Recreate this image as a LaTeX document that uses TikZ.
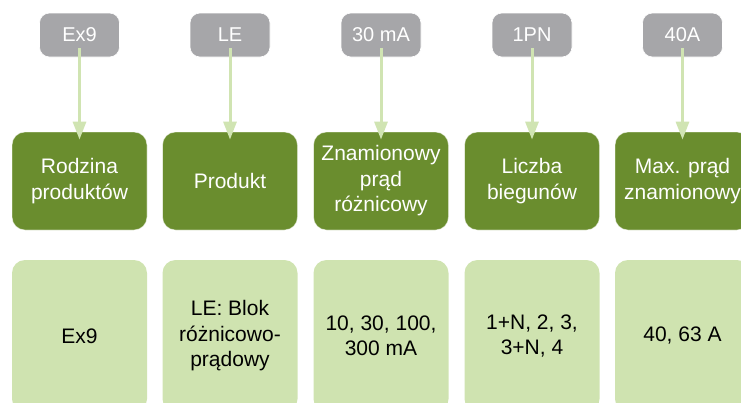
\documentclass[tikz,border=0pt]{standalone}
\usepackage{fontspec}
\setmainfont{Liberation Sans}
\usetikzlibrary{arrows.meta}
\definecolor{tagGray}{RGB}{166,166,169}
\definecolor{darkGreen}{RGB}{106,141,46}
\definecolor{lightGreen}{RGB}{207,227,176}
\definecolor{arrowGreen}{RGB}{208,228,178}
\tikzset{
  tagbox/.style={fill=tagGray, draw=white, line width=0.6pt, rounded corners=10pt,
    minimum width=80pt, minimum height=44pt, inner sep=0pt, text=white,
    font=\fontsize{20}{24}\selectfont},
  headbox/.style={fill=darkGreen, draw=white, draw opacity=0.5, line width=0.8pt, rounded corners=13pt,
    minimum width=135pt, minimum height=98pt, inner sep=0pt, text=white, align=center,
    font=\fontsize{21}{25.5}\selectfont},
  valbox/.style={fill=lightGreen, draw=none, rounded corners=13pt,
    minimum width=135pt, minimum height=152pt, inner sep=0pt, text=black, align=center,
    font=\fontsize{21}{25.5}\selectfont},
  downarrow/.style={draw=arrowGreen, line width=3pt,
    -{Triangle[width=13pt,length=18pt]}, arrowGreen, shorten >=1pt}
}
\begin{document}
\begin{tikzpicture}[x=1pt,y=-1pt]
\useasboundingbox (0,0) rectangle (741,402);
\clip (0,0) rectangle (741,402);
% tags
\node[tagbox] (t1) at (79.5,35) {Ex9};
\node[tagbox] (t2) at (230,35) {LE};
\node[tagbox] (t3) at (381,35) {30 mA};
\node[tagbox] (t4) at (532,35) {1PN};
\node[tagbox] (t5) at (682.5,35) {40A};
% header boxes
\node[headbox] (h1) at (79.5,181) {Rodzina\\produktów};
\node[headbox] (h2) at (230,181) {Produkt};
\node[headbox] (h3) at (381,181) {Znamionowy\\prąd\\różnicowy};
\node[headbox] (h4) at (532,181) {Liczba\\biegunów};
\node[headbox] (h5) at (682.5,181) {Max. prąd\\znamionowy};
% value boxes
\node[valbox] (v1) at (79.5,336) {Ex9};
\node[valbox] (v2) at (230,336) {LE: Blok\\różnicowo-\\prądowy};
\node[valbox] (v3) at (381,336) {10, 30, 100,\\300 mA};
\node[valbox] (v4) at (532,336) {1+N, 2, 3,\\3+N, 4};
\node[valbox] (v5) at (682.5,336) {40, 63 A};
% arrows
\foreach \i in {1,...,5}{
  \draw[downarrow] ([yshift=9pt]t\i.south) -- ([yshift=-9pt]h\i.north);
}
\end{tikzpicture}
\end{document}
